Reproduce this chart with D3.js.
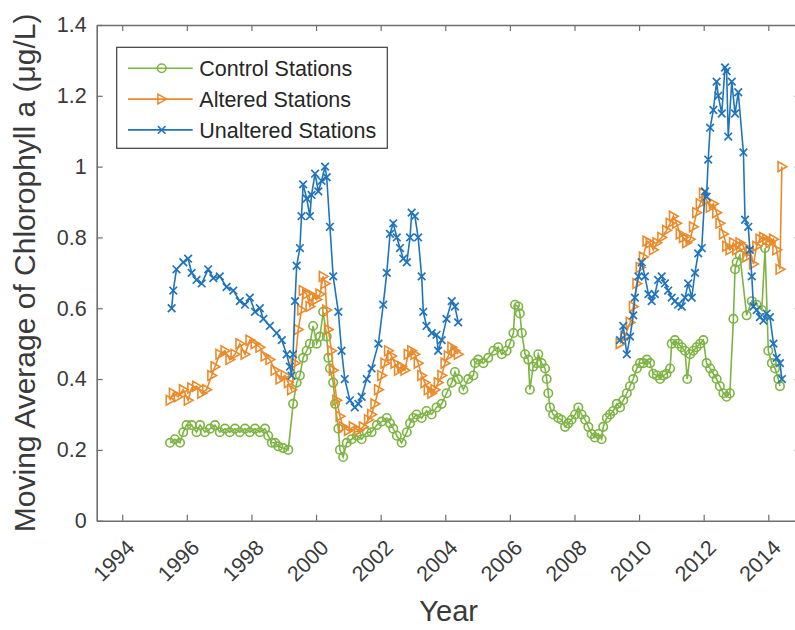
<!DOCTYPE html>
<html><head><meta charset="utf-8">
<script src="https://cdn.jsdelivr.net/npm/d3@7"></script>
<style>
html,body{margin:0;padding:0;background:#fff;}
svg{display:block;font-family:"Liberation Sans",Arial,Helvetica,sans-serif;}
</style></head>
<body><svg id="chart" width="795" height="630"></svg>
<script>
const seriesNames = ["Control Stations", "Altered Stations", "Unaltered Stations"];
const xTickValues = [1994,1996,1998,2000,2002,2004,2006,2008,2010,2012,2014];
const yTickValues = [0,0.2,0.4,0.6,0.8,1,1.2,1.4];

const controlYears = [1995.48,1995.63,1995.79,1995.89,1995.99,1996.15,1996.30,1996.41,1996.56,1996.72,1996.87,1997.02,1997.18,1997.33,1997.49,1997.64,1997.80,1997.95,1998.11,1998.26,1998.42,1998.52,1998.63,1998.73,1998.83,1998.98,1999.14,
 1999.29,1999.40,1999.50,1999.60,1999.71,1999.81,1999.91,2000.02,2000.12,2000.22,2000.33,2000.38,2000.43,2000.53,2000.59,2000.69,2000.74,2000.84,2000.95,2001.10,2001.26,2001.41,2001.57,2001.72,2001.88,2002.03,2002.19,2002.29,2002.39,2002.50,2002.65,2002.81,2002.91,2003.01,2003.11,2003.27,2003.42,2003.58,2003.73,2003.89,2004.04,2004.20,2004.30,2004.40,
 2004.56,2004.71,2004.87,2004.92,2005.02,2005.18,2005.33,2005.49,2005.64,2005.75,2005.90,2006.00,2006.11,2006.16,2006.26,2006.31,2006.37,2006.47,2006.57,2006.62,2006.72,2006.83,2006.88,2006.98,2007.09,2007.14,2007.19,2007.24,2007.34,2007.50,2007.60,2007.71,2007.81,2007.91,2008.02,2008.12,2008.22,2008.33,2008.43,2008.53,2008.63,2008.74,2008.84,2008.89,2009.00,2009.10,2009.20,2009.31,
 2009.41,2009.51,2009.62,2009.72,2009.82,2009.93,2010.03,2010.13,2010.24,2010.34,2010.44,2010.55,2010.65,2010.75,2010.85,2010.96,2011.01,2011.11,2011.21,2011.32,2011.42,2011.49,2011.58,2011.68,2011.78,2011.89,2011.99,2012.09,2012.20,2012.30,2012.40,2012.50,2012.61,2012.71,2012.81,2012.92,2012.97,2013.02,2013.12,2013.33,2013.49,2013.64,2013.80,2013.90,2014.00,2014.11,2014.21,2014.31,2014.36];
const controlValues = [0.22,0.23,0.22,0.25,0.27,0.27,0.25,0.27,0.25,0.26,0.27,0.25,0.26,0.25,0.26,0.25,0.26,0.25,0.26,0.25,0.26,0.24,0.22,0.22,0.21,0.205,0.20,
 0.33,0.39,0.41,0.46,0.48,0.50,0.55,0.50,0.52,0.59,0.52,0.46,0.43,0.39,0.33,0.26,0.20,0.18,0.22,0.23,0.24,0.23,0.25,0.25,0.27,0.28,0.29,0.275,0.26,0.24,0.22,0.25,0.275,0.29,0.30,0.29,0.31,0.30,0.32,0.33,0.36,0.39,0.42,0.40,
 0.37,0.40,0.41,0.445,0.455,0.445,0.46,0.48,0.49,0.47,0.48,0.50,0.53,0.61,0.605,0.585,0.53,0.47,0.455,0.37,0.435,0.445,0.47,0.445,0.43,0.40,0.36,0.32,0.30,0.29,0.285,0.265,0.275,0.285,0.30,0.32,0.30,0.285,0.265,0.245,0.235,0.245,0.23,0.265,0.29,0.30,0.31,0.33,
 0.32,0.34,0.36,0.38,0.40,0.43,0.445,0.445,0.455,0.445,0.415,0.41,0.40,0.41,0.415,0.43,0.50,0.51,0.50,0.49,0.48,0.40,0.47,0.48,0.49,0.50,0.51,0.445,0.43,0.415,0.40,0.38,0.36,0.35,0.36,0.57,0.71,0.73,0.75,0.58,0.62,0.61,0.595,0.77,0.48,0.445,0.43,0.40,0.38];

const alteredYears = [1995.48,1995.58,1995.73,1995.89,1996.04,1996.15,1996.30,1996.46,1996.61,1996.77,1996.87,1997.02,1997.18,1997.33,1997.49,1997.64,1997.80,1997.95,1998.11,1998.26,1998.42,1998.57,1998.73,1998.88,1999.04,1999.14,1999.24,1999.35,1999.45,1999.55,1999.60,1999.71,1999.81,1999.91,2000.02,2000.12,2000.22,2000.28,2000.33,2000.38,2000.48,2000.53,2000.64,2000.74,2000.84,2001.00,2001.15,2001.31,2001.46,2001.62,2001.72,2001.82,2001.93,2002.03,2002.13,2002.24,2002.34,2002.44,2002.55,2002.65,2002.75,2002.85,2002.96,2003.06,2003.16,2003.27,2003.37,2003.47,2003.58,2003.68,2003.78,2003.89,2003.99,2004.09,2004.20,2004.30,2004.40,
 2006.90,
 2009.41,2009.56,2009.72,2009.82,2009.93,2010.03,2010.13,2010.24,2010.34,2010.44,2010.55,2010.70,2010.85,2010.96,2011.06,2011.16,2011.27,2011.37,2011.47,2011.58,2011.68,2011.78,2011.89,2011.99,2012.09,2012.20,2012.30,2012.40,2012.50,2012.61,2012.71,2012.81,2012.92,2013.02,2013.12,2013.23,2013.33,2013.43,2013.54,2013.64,2013.74,2013.85,2013.95,2014.05,2014.16,2014.26,2014.36,2014.42];
const alteredValues = [0.34,0.36,0.35,0.37,0.34,0.375,0.38,0.36,0.37,0.41,0.435,0.47,0.48,0.455,0.47,0.50,0.47,0.51,0.50,0.49,0.465,0.455,0.425,0.40,0.41,0.39,0.37,0.445,0.54,0.595,0.65,0.64,0.605,0.635,0.625,0.64,0.69,0.67,0.595,0.54,0.48,0.425,0.34,0.295,0.265,0.255,0.265,0.255,0.265,0.285,0.30,0.33,0.37,0.41,0.445,0.48,0.465,0.445,0.425,0.435,0.425,0.47,0.48,0.47,0.445,0.41,0.39,0.37,0.36,0.37,0.39,0.41,0.445,0.465,0.49,0.48,0.47,
 null,
 0.50,0.52,0.56,0.605,0.67,0.715,0.745,0.79,0.785,0.765,0.785,0.80,0.82,0.84,0.86,0.84,0.81,0.80,0.785,0.795,0.83,0.87,0.895,0.925,0.905,0.885,0.895,0.87,0.84,0.81,0.775,0.765,0.785,0.765,0.785,0.775,0.745,0.765,0.725,0.775,0.795,0.80,0.795,0.785,0.795,0.765,0.71,1.0];

const unalteredYears = [1995.53,1995.58,1995.68,1995.89,1996.04,1996.15,1996.30,1996.46,1996.66,1996.82,1997.02,1997.23,1997.44,1997.64,1997.80,1997.95,1998.11,1998.26,1998.37,1998.57,1998.78,1998.94,1999.09,1999.19,1999.24,1999.29,1999.35,1999.40,1999.50,1999.55,1999.60,1999.71,1999.81,1999.86,1999.97,2000.07,2000.17,2000.28,2000.33,2000.43,2000.53,2000.69,2000.79,2000.89,2001.05,2001.20,2001.31,2001.41,2001.57,2001.72,2001.93,2002.08,2002.19,2002.29,2002.39,2002.50,2002.60,2002.70,2002.81,2002.91,2002.96,2003.06,2003.16,2003.27,2003.32,2003.42,2003.58,2003.73,2003.78,2003.89,2004.04,2004.20,2004.30,2004.40,
 2006.90,
 2009.41,2009.51,2009.62,2009.72,2009.82,2009.87,2009.98,2010.08,2010.18,2010.29,2010.39,2010.49,2010.59,2010.70,2010.80,2010.90,2011.01,2011.11,2011.21,2011.32,2011.42,2011.52,2011.63,2011.73,2011.83,2011.94,2012.04,2012.09,2012.14,2012.20,2012.30,2012.40,2012.45,2012.56,2012.66,2012.71,2012.76,2012.87,2012.97,2013.07,2013.23,2013.28,2013.38,2013.43,2013.49,2013.54,2013.64,2013.74,2013.85,2013.95,2014.05,2014.16,2014.26,2014.36,2014.42];
const unalteredValues = [0.60,0.65,0.71,0.73,0.74,0.70,0.68,0.67,0.71,0.685,0.69,0.66,0.65,0.62,0.61,0.63,0.59,0.60,0.57,0.55,0.53,0.51,0.47,0.435,0.41,0.47,0.62,0.72,0.77,0.86,0.95,0.91,0.86,0.92,0.98,0.93,0.96,1.0,0.97,0.83,0.69,0.59,0.48,0.40,0.34,0.32,0.33,0.35,0.40,0.43,0.50,0.61,0.70,0.81,0.84,0.80,0.77,0.74,0.73,0.80,0.87,0.86,0.80,0.69,0.59,0.55,0.53,0.525,0.48,0.51,0.57,0.62,0.605,0.56,
 null,
 0.51,0.55,0.47,0.52,0.58,0.63,0.69,0.73,0.69,0.64,0.62,0.64,0.68,0.69,0.67,0.65,0.63,0.62,0.61,0.605,0.63,0.67,0.63,0.70,0.755,0.77,0.93,0.915,1.02,1.11,1.16,1.24,1.20,1.15,1.28,1.27,1.085,1.24,1.15,1.21,1.04,0.85,0.83,0.765,0.69,0.605,0.595,0.575,0.565,0.585,0.575,0.50,0.46,0.445,0.40];

const colors = {control:"#7db443", altered:"#ea8a2a", unaltered:"#1f74bc"};

const svg = d3.select("#chart");
const L = 96.7, T = 25, B = 520.7, R = 800.6;
const x = d3.scaleLinear().domain([1993.21, 2015]).range([L, R]);
const y = d3.scaleLinear().domain([0, 1.4]).range([B, T]);

svg.append("defs").append("clipPath").attr("id","clip")
  .append("rect").attr("x",L).attr("y",T).attr("width",R-L).attr("height",B-T);

const axisColor = "#6e6e6e", textColor = "#3a3a3a";

// axes
const gx = svg.append("g").attr("transform",`translate(0,${B})`)
  .call(d3.axisBottom(x).tickValues(xTickValues).tickSizeInner(-6).tickSizeOuter(0).tickFormat(d3.format("d")));
const gxt = svg.append("g").attr("transform",`translate(0,${T})`)
  .call(d3.axisTop(x).tickValues(xTickValues).tickSizeInner(-6).tickSizeOuter(0).tickFormat(""));
const gy = svg.append("g").attr("transform",`translate(${L},0)`)
  .call(d3.axisLeft(y).tickValues(yTickValues).tickSizeInner(-6).tickSizeOuter(0).tickFormat(d3.format("~g")));
const gyr = svg.append("g").attr("transform",`translate(${R},0)`)
  .call(d3.axisRight(y).tickValues(yTickValues).tickSizeInner(-6).tickSizeOuter(0).tickFormat(""));
[gx,gxt,gy,gyr].forEach(g=>{
  g.select(".domain").attr("stroke",axisColor).attr("stroke-width",1.6);
  g.selectAll(".tick line").attr("stroke",axisColor).attr("stroke-width",1.2);
});
gy.selectAll(".tick text").attr("x",-10).attr("font-size","21.5px").attr("fill",textColor)
  .attr("font-family","Liberation Sans, Arial, sans-serif");
gx.selectAll(".tick text")
  .attr("font-size","21.5px").attr("fill",textColor).attr("font-family","Liberation Sans, Arial, sans-serif")
  .attr("text-anchor","end").attr("dy","0.35em").attr("y",0)
  .attr("transform","translate(8,23) rotate(-45)");

// series
const lineGen = d3.line().defined(d=>d[1]!==null).x(d=>x(d[0])).y(d=>y(d[1]));
const plot = svg.append("g").attr("clip-path","url(#clip)");

function zip(xs, vs){ return xs.map((v,i)=>[v, vs[i]]); }
const ctrl = zip(controlYears, controlValues);
const alt = zip(alteredYears, alteredValues);
const unalt = zip(unalteredYears, unalteredValues);

const circlePath = d3.symbol(d3.symbolCircle, 56)();
const triPath = "M-3.8,-4.9L4.9,0L-3.8,4.9Z";
const xPath = "M-3.8,-3.8L3.8,3.8M-3.8,3.8L3.8,-3.8";

function drawSeries(data, color, path, strokeW){
  plot.append("path").datum(data).attr("d",lineGen).attr("fill","none")
    .attr("stroke",color).attr("stroke-width",1.6);
  plot.append("g").selectAll("path").data(data.filter(d=>d[1]!==null)).join("path")
    .attr("d",path).attr("transform",d=>`translate(${x(d[0])},${y(d[1])})`)
    .attr("fill","none").attr("stroke",color).attr("stroke-width",strokeW);
}
drawSeries(ctrl, colors.control, circlePath, 1.6);
drawSeries(alt, colors.altered, triPath, 1.6);
drawSeries(unalt, colors.unaltered, xPath, 1.7);

// axis labels
svg.append("text").attr("x",(L+R)/2).attr("y",621).attr("text-anchor","middle")
  .attr("font-size","29px").attr("fill",textColor).text("Year");
svg.append("text").attr("transform",`translate(35,${(T+B)/2}) rotate(-90)`).attr("text-anchor","middle")
  .attr("font-size","30px").attr("fill",textColor).text("Moving Average of Chlorophyll a (μg/L)");

// legend
const lg = svg.append("g");
lg.append("rect").attr("x",116.7).attr("y",47.3).attr("width",270.6).attr("height",101)
  .attr("fill","#fff").attr("stroke","#3c3c3c").attr("stroke-width",1.2);
const legendItems = [
  {name:seriesNames[0], color:colors.control, path:circlePath},
  {name:seriesNames[1], color:colors.altered, path:triPath},
  {name:seriesNames[2], color:colors.unaltered, path:xPath}
];
legendItems.forEach((it,i)=>{
  const yy = 68.3 + i*30.8;
  lg.append("line").attr("x1",128).attr("x2",192.7).attr("y1",yy).attr("y2",yy)
    .attr("stroke",it.color).attr("stroke-width",1.6);
  lg.append("path").attr("d",it.path).attr("transform",`translate(161.7,${yy})`)
    .attr("fill","none").attr("stroke",it.color).attr("stroke-width",1.5);
  lg.append("text").attr("x",199.3).attr("y",yy).attr("dy","0.36em")
    .attr("font-size","21.5px").attr("fill","#262626").text(it.name);
});
</script></body></html>
